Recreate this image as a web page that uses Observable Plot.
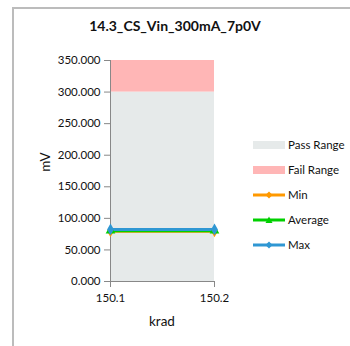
<!DOCTYPE html>
<html>
<head>
<meta charset="utf-8">
<script src="https://cdn.jsdelivr.net/npm/d3@7"></script>
<script src="https://cdn.jsdelivr.net/npm/@observablehq/plot@0.6"></script>
<style>
  html, body { margin: 0; padding: 0; background: #fff; }
  body { width: 350px; height: 346px; overflow: hidden; position: relative; font-family: Lato, "Open Sans", sans-serif; }
  #frame { position: absolute; left: 12px; top: 7px; width: 360px; height: 360px; border: 2px solid #bcbcbc; box-sizing: border-box; }
  #title { position: absolute; left: 0; top: 17px; width: 350px; text-align: center; font-weight: bold; font-size: 14px; color: #111; }
  #chart { position: absolute; left: 0; top: 0; }
  #legend { position: absolute; left: 253px; top: 132px; font-size: 11.5px; color: #111; }
  .row { display: flex; align-items: center; height: 25px; }
  .row svg { margin-right: 3px; }
  .lab { position: absolute; font-size: 13.5px; color: #111; }
</style>
</head>
<body>
<div id="frame"></div>
<div id="title"></div>
<div id="chart"></div>
<div id="legend"></div>
<script>
const title = "14.3_CS_Vin_300mA_7p0V";
const xLabel = "krad";
const yLabel = "mV";
const krad = [150.1, 150.2];
const minValues = [79.5, 79.5];
const avgValues = [80.5, 80.5];
const maxValues = [82.5, 82.5];
const passRange = [0, 300];
const failRange = [300, 350];
const yTicks = [0, 50, 100, 150, 200, 250, 300, 350];
const seriesNames = ["Min", "Average", "Max"];
const seriesColors = ["#ff9900", "#00d000", "#2f97d3"];
const seriesSymbols = ["diamond", "triangle", "diamond"];
const bandNames = ["Pass Range", "Fail Range"];
const bandColors = ["#e6eaea", "#ffb6b6"];

document.getElementById("title").textContent = title;

const seriesValues = [minValues, avgValues, maxValues];
const points = [];
seriesNames.forEach((name, i) => {
  krad.forEach((k, j) => points.push({series: name, krad: k, value: seriesValues[i][j]}));
});
const bands = [
  {name: bandNames[0], x1: krad[0], x2: krad[krad.length - 1], y1: passRange[0], y2: passRange[1]},
  {name: bandNames[1], x1: krad[0], x2: krad[krad.length - 1], y1: failRange[0], y2: failRange[1]}
];

const colorScale = {domain: [...bandNames, ...seriesNames], range: [...bandColors, ...seriesColors]};

const chart = Plot.plot({
  width: 350,
  height: 346,
  marginLeft: 110,
  marginRight: 136,
  marginTop: 60,
  marginBottom: 65,
  style: {fontFamily: "Lato, 'Open Sans', sans-serif", fontSize: "11.5px", color: "#111", background: "transparent"},
  x: {domain: [krad[0], krad[krad.length - 1]]},
  y: {domain: [yTicks[0], yTicks[yTicks.length - 1]]},
  color: colorScale,
  symbol: {domain: seriesNames, range: seriesSymbols},
  marks: [
    Plot.rect(bands, {x1: "x1", x2: "x2", y1: "y1", y2: "y2", fill: "name"}),
    Plot.axisY({ticks: yTicks, tickFormat: d3.format(".3f"), tickSize: 6, tickPadding: 4, stroke: "#888", fill: "#111", label: null}),
    Plot.axisX({ticks: krad, tickFormat: d3.format(".1f"), tickSize: 6, tickPadding: 6, stroke: "#888", fill: "#111", label: null}),
    Plot.ruleX([krad[0]], {stroke: "#888"}),
    Plot.ruleY([yTicks[0]], {stroke: "#888"}),
    Plot.line(points, {x: "krad", y: "value", z: "series", stroke: "series", strokeWidth: 3}),
    Plot.dot(points, {x: "krad", y: "value", fill: "series", symbol: "series", r: 3.6, stroke: "none"})
  ]
});
document.getElementById("chart").appendChild(chart);

// axis titles
const yl = document.createElement("div");
yl.className = "lab";
yl.textContent = yLabel;
yl.style.left = "35px"; yl.style.top = "154px"; yl.style.transform = "rotate(-90deg)";
document.body.appendChild(yl);
const xl = document.createElement("div");
xl.className = "lab";
xl.textContent = xLabel;
xl.style.left = "149px"; xl.style.top = "313px";
document.body.appendChild(xl);

// legend
const legend = document.getElementById("legend");
bandNames.forEach((n, i) => {
  const r = document.createElement("div"); r.className = "row";
  r.innerHTML = `<svg width="32" height="10"><rect x="0" y="1" width="32" height="8" fill="${bandColors[i]}"/></svg><span>${n}</span>`;
  legend.appendChild(r);
});
const sym = {diamond: "M16,1.5 L19.5,5 L16,8.5 L12.5,5Z", triangle: "M16,1.5 L19.5,8 L12.5,8Z"};
seriesNames.forEach((n, i) => {
  const r = document.createElement("div"); r.className = "row";
  r.innerHTML = `<svg width="32" height="10"><line x1="0" x2="32" y1="5" y2="5" stroke="${seriesColors[i]}" stroke-width="3"/><path d="${sym[seriesSymbols[i]]}" fill="${seriesColors[i]}"/></svg><span>${n}</span>`;
  legend.appendChild(r);
});
</script>
</body>
</html>
